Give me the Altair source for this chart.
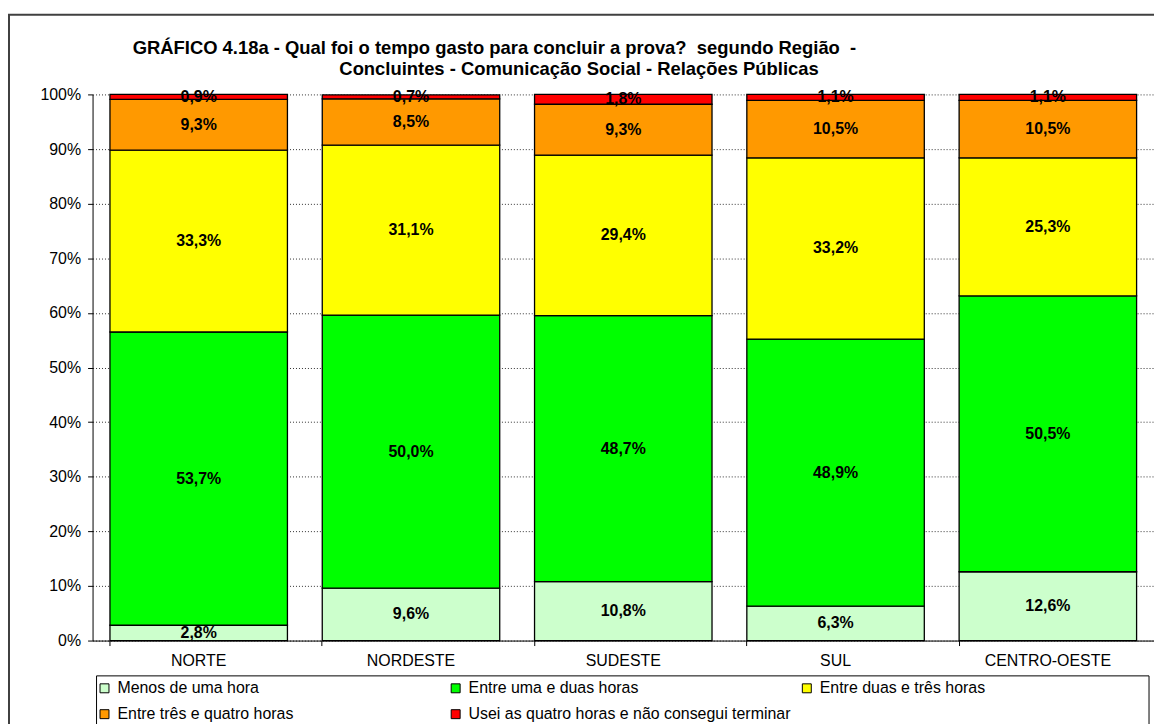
import altair as alt
import pandas as pd

regions = ["NORTE", "NORDESTE", "SUDESTE", "SUL", "CENTRO-OESTE"]
categories = [
    "Menos de uma hora",
    "Entre uma e duas horas",
    "Entre duas e três horas",
    "Entre três e quatro horas",
    "Usei as quatro horas e não consegui terminar",
]
menos_uma = [2.8, 9.6, 10.8, 6.3, 12.6]
uma_duas = [53.7, 50.0, 48.7, 48.9, 50.5]
duas_tres = [33.3, 31.1, 29.4, 33.2, 25.3]
tres_quatro = [9.3, 8.5, 9.3, 10.5, 10.5]
usei_quatro = [0.9, 0.7, 1.8, 1.1, 1.1]
colors = ["#CCFFCC", "#00FF00", "#FFFF00", "#FF9900", "#FF0000"]
y_ticks = [0, 10, 20, 30, 40, 50, 60, 70, 80, 90, 100]
title_line1 = "GRÁFICO 4.18a - Qual foi o tempo gasto para concluir a prova?\u00a0 segundo Região\u00a0 -"
title_line2 = "Concluintes - Comunicação Social - Relações Públicas"

series = [menos_uma, uma_duas, duas_tres, tres_quatro, usei_quatro]
rows = []
for ci, (cat, vals) in enumerate(zip(categories, series)):
    for r, v in zip(regions, vals):
        rows.append({
            "region": r,
            "cat": cat,
            "order": ci,
            "value": v,
            "label": f"{v:.1f}".replace(".", ",") + "%",
        })
df = pd.DataFrame(rows)

FONT = "Liberation Sans"
W, H = 1067, 549

base = alt.Chart(df).transform_stack(
    stack="value", groupby=["region"], as_=["y0", "y1"],
    sort=[alt.SortField("order", order="ascending")],
).transform_calculate(mid="(datum.y0 + datum.y1) / 2")

x_scale = alt.Scale(domain=regions, paddingInner=0.164, paddingOuter=0.082)
y_scale = alt.Scale(domain=[0, 100], nice=False)

y_axis = alt.Axis(title=None, values=y_ticks, labelExpr="datum.value + '%'",
                  labelFont=FONT, labelFontSize=16, labelColor="black",
                  tickSize=5, tickColor="black", labelPadding=7,
                  domainColor="black", grid=True, gridColor="#333333",
                  gridDash=[1, 2], gridWidth=1)

bars = base.mark_bar(stroke="black", strokeWidth=1.3, opacity=1).encode(
    x=alt.X("region:N", scale=x_scale, sort=regions,
            axis=alt.Axis(title=None, labelAngle=0, ticks=False, orient="bottom",
                          labelFont=FONT, labelFontSize=16, labelColor="black",
                          labelPadding=12, domainColor="black", grid=False)),
    y=alt.Y("y0:Q", scale=y_scale, axis=y_axis),
    y2="y1:Q",
    color=alt.Color("cat:N", scale=alt.Scale(domain=categories, range=colors),
                    legend=alt.Legend(
                        title=None, orient="none", legendX=1, legendY=586,
                        direction="horizontal", columns=3, gridAlign="all",
                        columnPadding=8, rowPadding=10, padding=3,
                        symbolType="square", symbolSize=81, symbolStrokeColor="black",
                        symbolStrokeWidth=1, symbolOpacity=1, labelOffset=5,
                        labelFont=FONT, labelFontSize=16, labelColor="black",
                        labelLimit=0)),
    order=alt.Order("order:Q"),
)

ticks_layer = base.mark_bar(opacity=0).encode(
    x=alt.X("region:N", scale=x_scale, sort=regions,
            axis=alt.Axis(title=None, labels=False, ticks=True, tickSize=5,
                          tickColor="black", bandPosition=0, domain=False,
                          grid=False, orient="bottom")),
    y=alt.Y("y0:Q", scale=y_scale, axis=y_axis),
)

texts = base.mark_text(font=FONT, fontSize=16, fontWeight="bold", color="black",
                       baseline="middle").encode(
    x=alt.X("region:N", scale=x_scale, sort=regions, axis=None),
    y=alt.Y("mid:Q", scale=y_scale, axis=y_axis),
    text="label:N",
)

one = alt.Data(values=[{"k": 1}])
t1 = alt.Chart(one).mark_text(text=title_line1, font=FONT, fontSize=18.5, fontWeight="bold",
                              color="black", align="center", baseline="middle").encode(
    x=alt.value(404), y=alt.value(-47))
t2 = alt.Chart(one).mark_text(text=title_line2, font=FONT, fontSize=18.5, fontWeight="bold",
                              color="black", align="center", baseline="middle").encode(
    x=alt.value(489), y=alt.value(-26))
frame = alt.Chart(one).mark_rect(fillOpacity=0, stroke="#404040", strokeWidth=2).encode(
    x=alt.value(-84), x2=alt.value(1300), y=alt.value(-80), y2=alt.value(900))
legend_box = alt.Chart(one).mark_rect(fill="white", stroke="black", strokeWidth=1).encode(
    x=alt.value(4), x2=alt.value(1062), y=alt.value(584.5), y2=alt.value(900))

chart = alt.layer(frame, legend_box, ticks_layer, bars, texts, t1, t2).resolve_axis(
    x="independent"
).properties(
    width=W, height=H,
    autosize=alt.AutoSizeParams(type="none"),
    padding={"left": 85, "top": 85, "right": 0, "bottom": 82},
).configure_view(stroke=None)

chart.save("out.html", embed_options={"renderer": "svg", "actions": False})
